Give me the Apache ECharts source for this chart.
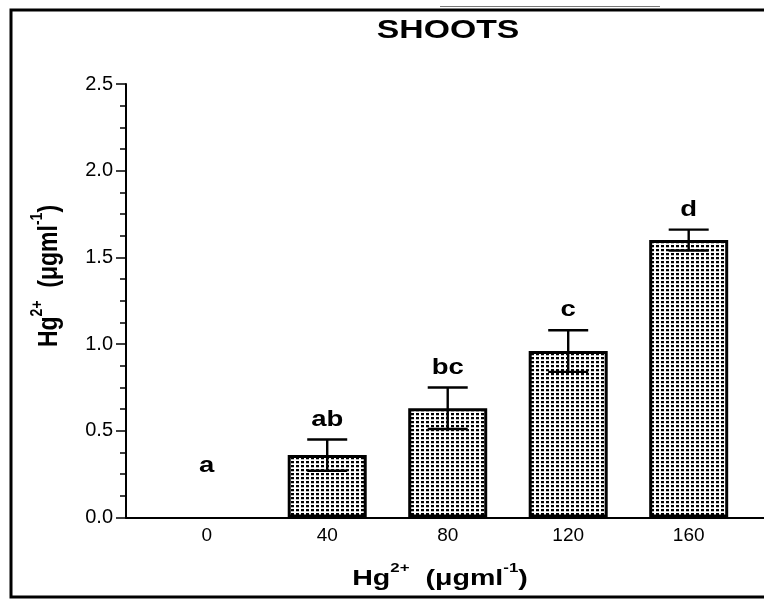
<!DOCTYPE html>
<html>
<head>
<meta charset="utf-8">
<script src="https://cdn.jsdelivr.net/npm/echarts@6/dist/echarts.min.js"></script>
<style>
  html, body { margin: 0; padding: 0; background: #fff; }
  #chart { width: 764px; height: 599px; }
</style>
</head>
<body>
<div id="chart"></div>
<script>
// Hg2+ content of shoots per Hg2+ treatment dose
const doses = [0, 40, 80, 120, 160];
const means = [0, 0.36, 0.63, 0.96, 1.60];
const errors = [0, 0.09, 0.12, 0.12, 0.06];
const groups = ['a', 'ab', 'bc', 'c', 'd'];
const doseLabels = ['0', '40', '80', '120', '160'];

const FONT = "'Liberation Sans', Arial, Helvetica, sans-serif";

// stippled fill used for the bars
function stipple() {
  const c = document.createElement('canvas');
  c.width = 5; c.height = 4;
  const g = c.getContext('2d');
  g.fillStyle = '#ffffff';
  g.fillRect(0, 0, 5, 4);
  g.fillStyle = '#000000';
  g.fillRect(1, 1, 3, 2);
  g.fillStyle = 'rgba(0,0,0,0.25)';
  g.fillRect(1, 3, 3, 1);
  return c;
}

const chart = echarts.init(document.getElementById('chart'), null, { renderer: 'canvas' });

function titleRich(size) {
  return {
    b: { fontFamily: FONT, fontWeight: 'bold', fontSize: size, lineHeight: size + 6, verticalAlign: 'bottom', color: '#000' },
    s: { fontFamily: FONT, fontWeight: 'bold', fontSize: Math.round(size * 0.6), lineHeight: size + 6, verticalAlign: 'top', padding: [0, 0, 10, 0], color: '#000' }
  };
}
const axisTitle = '{b|Hg}{s|2+}{b|  (μgml}{s|-1}{b|)}';

const labelFloor = 0.18;

chart.setOption({
  animation: false,
  backgroundColor: '#ffffff',
  grid: { left: 126, right: 0, top: 84, bottom: 81.5 },
  xAxis: {
    type: 'value',
    min: -26.8,
    max: 185,
    splitLine: { show: false },
    axisLine: { show: true, onZero: false, lineStyle: { color: '#000', width: 2 } },
    axisTick: { show: false },
    axisLabel: {
      customValues: doses,
      formatter: v => doseLabels[doses.indexOf(v)],
      color: '#000',
      fontFamily: FONT,
      fontSize: 19,
      margin: 9
    }
  },
  yAxis: {
    type: 'value',
    min: 0,
    max: 2.5,
    interval: 0.5,
    splitLine: { show: false },
    axisLine: { show: true, onZero: false, lineStyle: { color: '#000', width: 2 } },
    axisTick: { show: true, inside: false, length: 10, lineStyle: { color: '#000', width: 1.5 } },
    minorTick: { show: true, splitNumber: 4, length: 6, lineStyle: { color: '#000', width: 1.5 } },
    axisLabel: {
      color: '#000',
      fontFamily: FONT,
      fontSize: 20,
      margin: 13,
      formatter: v => v.toFixed(1)
    }
  },
  series: [
    {
      type: 'bar',
      // a zero-height bar gets no outline
      data: doses.map((d, i) => ({
        value: [d, means[i]],
        itemStyle: means[i] > 0 ? undefined : { borderWidth: 0 }
      })),
      barWidth: 79,
      itemStyle: {
        color: { image: stipple(), repeat: 'repeat' },
        borderColor: '#000',
        borderWidth: 3
      },
      z: 2
    },
    {
      type: 'custom',
      data: doses.map((d, i) => [d, means[i], errors[i], i]),
      encode: { x: 0, y: 1 },
      z: 5,
      renderItem: function (params, api) {
        const x = api.value(0), m = api.value(1), e = api.value(2);
        const idx = api.value(3);
        const top = api.coord([x, m + e]);
        const bot = api.coord([x, m - e]);
        const half = 20;
        const ls = { stroke: '#000', lineWidth: 2.4 };
        const children = [];
        if (e > 0) {
          children.push(
            { type: 'line', shape: { x1: top[0], y1: top[1], x2: bot[0], y2: bot[1] }, style: ls },
            { type: 'line', shape: { x1: top[0] - half, y1: top[1], x2: top[0] + half, y2: top[1] }, style: ls },
            { type: 'line', shape: { x1: bot[0] - half, y1: bot[1], x2: bot[0] + half, y2: bot[1] }, style: ls }
          );
        }
        const anchor = api.coord([x, Math.max(m + e, labelFloor)]);
        children.push({
          type: 'text',
          x: anchor[0],
          y: anchor[1] - 20,
          scaleX: 1.25,
          style: {
            text: groups[idx],
            fontFamily: FONT,
            fontWeight: 'bold',
            fontSize: 22,
            fill: '#000',
            align: 'center',
            verticalAlign: 'middle'
          }
        });
        return { type: 'group', children: children };
      }
    }
  ],
  graphic: [
    {
      type: 'polyline',
      shape: { points: [[764, 10], [11, 10], [11, 597], [764, 597]] },
      style: { stroke: '#000', lineWidth: 3, fill: null },
      silent: true
    },
    {
      type: 'line',
      shape: { x1: 440, y1: 6.5, x2: 660, y2: 6.5 },
      style: { stroke: '#777', lineWidth: 1.2 },
      silent: true
    },
    {
      type: 'text',
      x: 448,
      y: 31,
      scaleX: 1.35,
      style: {
        text: 'SHOOTS',
        fontFamily: FONT,
        fontWeight: 'bold',
        fontSize: 25,
        fill: '#000',
        align: 'center',
        verticalAlign: 'middle'
      }
    },
    {
      type: 'text',
      x: 440,
      y: 576,
      scaleX: 1.3,
      style: {
        text: axisTitle,
        rich: titleRich(22),
        align: 'center',
        verticalAlign: 'middle'
      }
    },
    {
      type: 'text',
      x: 46,
      y: 276,
      rotation: Math.PI / 2,
      scaleY: 1.2,
      style: {
        text: axisTitle,
        rich: titleRich(23),
        align: 'center',
        verticalAlign: 'middle'
      }
    }
  ]
});
</script>
</body>
</html>
